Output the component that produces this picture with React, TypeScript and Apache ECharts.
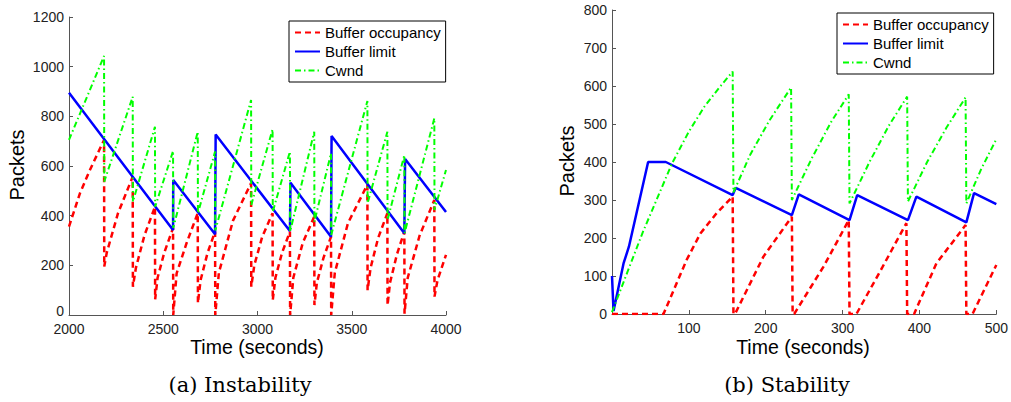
import React, { useEffect, useRef } from "react";
import * as echarts from "echarts";

// ---------- (a) Instability ----------
const occA: [number, number][] = [
  [2000, 356], [2058, 490], [2111, 584], [2186, 705],
  [2187, 195], [2200, 250], [2260, 410], [2338, 557],
  [2339, 114], [2355, 190], [2400, 320], [2456, 436],
  [2457, 63], [2470, 150], [2505, 250], [2552, 350],
  [2553, 0], [2571, 168], [2624, 290], [2683, 410],
  [2684, 48], [2698, 140], [2735, 250], [2775, 336],
  [2776, 0], [2795, 170], [2870, 380], [2966, 531],
  [2967, 114], [2983, 200], [3025, 315], [3080, 410],
  [3081, 60], [3095, 150], [3130, 250], [3172, 336],
  [3173, 0], [3190, 150], [3240, 290], [3301, 396],
  [3302, 40], [3315, 130], [3350, 230], [3390, 315],
  [3391, 0], [3410, 170], [3480, 370], [3583, 525],
  [3584, 100], [3600, 190], [3640, 310], [3689, 410],
  [3690, 40], [3703, 130], [3740, 245], [3779, 336],
  [3780, 5], [3797, 150], [3860, 320], [3938, 463],
  [3939, 74], [3955, 140], [4000, 242],
];
const limitA: [number, number][] = [
  [2000, 895], [2552, 342], [2553, 544], [2775, 325], [2778, 727],
  [3172, 338], [3175, 533], [3390, 315], [3393, 721], [3779, 329],
  [3783, 628], [4000, 415],
];
const cwndA: [number, number][] = [
  [2000, 705], [2186, 1043], [2187, 537], [2338, 879], [2339, 456],
  [2456, 758], [2457, 436], [2552, 660], [2553, 350], [2683, 738],
  [2684, 410], [2775, 658], [2776, 340], [2966, 866], [2967, 443],
  [3080, 748], [3081, 416], [3172, 658], [3173, 336], [3301, 738],
  [3302, 376], [3390, 651], [3391, 322], [3583, 862], [3584, 450],
  [3689, 738], [3690, 383], [3779, 644], [3780, 329], [3938, 792],
  [3939, 423], [4000, 584],
];

// ---------- (b) Stability ----------
const occB: [number, number][] = [
  [0, 0], [67, 0], [97, 142], [115, 212], [136, 265], [157, 309],
  [158, 0], [160, 0], [197, 151], [234, 256],
  [235, 0], [237, 0], [275, 124], [308, 247],
  [309, 0], [318, 0], [352, 124], [383, 239],
  [384, 0], [393, 0], [422, 133], [460, 234],
  [461, 0], [469, 0], [500, 129],
];
const limitB: [number, number][] = [
  [0, 100], [2, 8], [15, 133], [22, 177], [47, 400], [70, 400],
  [157, 313], [161, 332], [234, 260], [243, 315], [309, 247],
  [319, 313], [385, 247], [396, 309], [461, 241], [471, 318], [500, 289],
];
const cwndB: [number, number][] = [
  [0, 5], [20, 110], [40, 215], [60, 310], [78, 396], [100, 480],
  [120, 545], [140, 597], [157, 638],
  [158, 320], [180, 420], [205, 510], [233, 596],
  [234, 300], [260, 410], [285, 505], [308, 578],
  [309, 291], [335, 400], [360, 495], [384, 572],
  [385, 296], [410, 400], [435, 490], [460, 570],
  [461, 291], [480, 380], [500, 460],
];

const seriesNames = ["Buffer occupancy", "Buffer limit", "Cwnd"];
const xTitle = "Time (seconds)";
const yTitle = "Packets";
const captions = ["(a) Instability", "(b) Stability"];
const leftYMinLabel = "0";

const SANS = "'Liberation Sans', Arial, Helvetica, sans-serif";
const SERIF = "'DejaVu Serif', 'Liberation Serif', serif";
const AXIS_COLOR = "#555";
const LABEL_COLOR = "#222";

const styles = [
  { color: "#ff0000", width: 2.5, type: [6, 4] as number[] },
  { color: "#0000ff", width: 2.5, type: "solid" as const },
  { color: "#00ff00", width: 2, type: [6, 3, 1.5, 3] as number[] },
];

function mkSeries(data: [number, number][][], idx: number) {
  return data.map((d, i) => ({
    type: "line",
    name: seriesNames[i],
    xAxisIndex: idx,
    yAxisIndex: idx,
    data: d,
    symbol: "none",
    showSymbol: false,
    lineStyle: { ...styles[i] },
    itemStyle: { color: styles[i].color },
    z: 2 + i,
  }));
}

function axisCommon(margin: number) {
  return {
    axisLine: { show: true, lineStyle: { color: AXIS_COLOR, width: 1 } },
    axisTick: { show: true, inside: true, length: 4, lineStyle: { color: AXIS_COLOR } },
    splitLine: { show: false },
    axisLabel: {
      color: LABEL_COLOR,
      fontSize: 14,
      fontFamily: SANS,
      margin,
      lineHeight: 11,
      formatter: (v: number) => String(v),
    },
  };
}

function legend(left: number, top: number) {
  return {
    left,
    top,
    orient: "vertical",
    data: seriesNames,
    itemWidth: 25,
    itemHeight: 14,
    itemGap: 4,
    padding: [4, 5, 4, 5],
    borderColor: "#000",
    borderWidth: 1,
    backgroundColor: "#fff",
    selectedMode: false,
    itemStyle: { opacity: 0 },
    textStyle: { fontSize: 15, fontFamily: SANS, color: "#000", lineHeight: 14 },
  };
}

function txt(
  text: string,
  x: number,
  y: number,
  size: number,
  family: string,
  rot = 0,
  align = "center",
  fill = "#000"
) {
  return {
    type: "text",
    x,
    y,
    rotation: rot,
    style: {
      text,
      fontSize: size,
      fontFamily: family,
      lineHeight: size - 2,
      fill,
      textAlign: align,
      textVerticalAlign: "middle",
    },
  };
}

export default function App() {
  const ref = useRef<HTMLDivElement>(null);
  useEffect(() => {
    if (!ref.current) return;
    const chart = echarts.init(ref.current, undefined, { renderer: "svg" });
    const xa0 = axisCommon(8);
    const xa1 = axisCommon(8);
    const ya0 = axisCommon(5);
    chart.setOption({
      animation: false,
      backgroundColor: "#fff",
      grid: [
        { left: 69, top: 17, width: 377, height: 298 },
        { left: 612, top: 10, width: 385, height: 304 },
      ],
      xAxis: [
        { ...xa0, type: "value", gridIndex: 0, min: 2000, max: 4000, interval: 500 },
        {
          ...xa1,
          type: "value",
          gridIndex: 1,
          min: 0,
          max: 500,
          interval: 100,
          axisLabel: { ...xa1.axisLabel, showMinLabel: false },
        },
      ],
      yAxis: [
        {
          ...ya0,
          type: "value",
          gridIndex: 0,
          min: 0,
          max: 1200,
          interval: 200,
          axisLabel: { ...ya0.axisLabel, showMinLabel: false },
        },
        { ...axisCommon(5), type: "value", gridIndex: 1, min: 0, max: 800, interval: 100 },
      ],
      legend: [legend(289, 21), legend(837, 13)],
      series: [...mkSeries([occA, limitA, cwndA], 0), ...mkSeries([occB, limitB, cwndB], 1)],
      graphic: [
        txt(leftYMinLabel, 64, 311, 14, SANS, 0, "right", LABEL_COLOR),
        txt(yTitle, 17, 165, 20, SANS, Math.PI / 2),
        txt(xTitle, 257, 347, 19.5, SANS),
        txt(yTitle, 567, 161, 20, SANS, Math.PI / 2),
        txt(xTitle, 803, 347, 19.5, SANS),
        txt(captions[0], 240, 385, 21, SERIF),
        txt(captions[1], 787, 385, 21, SERIF),
      ],
    });
    return () => chart.dispose();
  }, []);
  return (
    <div
      ref={ref}
      style={{ position: "absolute", left: 0, top: 0, width: 1011, height: 402 }}
    />
  );
}
